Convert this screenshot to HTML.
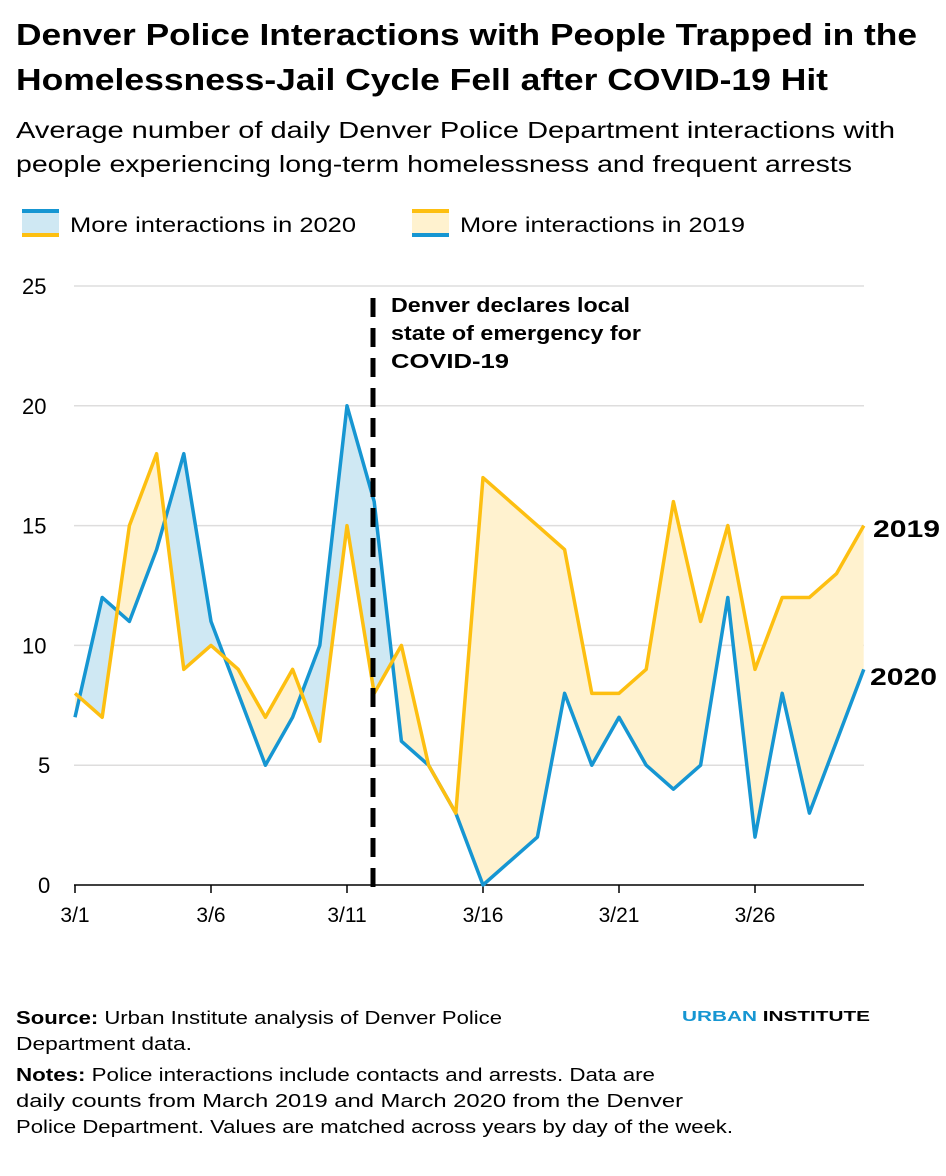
<!DOCTYPE html>
<html><head><meta charset="utf-8">
<style>
body{margin:0;background:#fff;width:946px;height:1171px;overflow:hidden;font-family:"Liberation Sans",sans-serif;color:#000}
</style></head><body>
<svg id="s" width="946" height="1171" xmlns="http://www.w3.org/2000/svg" font-family="Liberation Sans, sans-serif">
<text x="16" y="45" font-size="31" font-weight="bold" textLength="901" lengthAdjust="spacingAndGlyphs">Denver Police Interactions with People Trapped in the</text>
<text x="16" y="90" font-size="31" font-weight="bold" textLength="812" lengthAdjust="spacingAndGlyphs">Homelessness-Jail Cycle Fell after COVID-19 Hit</text>
<text x="16" y="138" font-size="23" textLength="879" lengthAdjust="spacingAndGlyphs">Average number of daily Denver Police Department interactions with</text>
<text x="16" y="172" font-size="23" textLength="836" lengthAdjust="spacingAndGlyphs">people experiencing long-term homelessness and frequent arrests</text>
<rect x="22" y="210" width="37" height="26" fill="#cfe8f3"/>
<rect x="22" y="209" width="37" height="4" fill="#1696d2"/>
<rect x="22" y="233" width="37" height="4" fill="#fdbf11"/>
<text x="70" y="232" font-size="21" textLength="286" lengthAdjust="spacingAndGlyphs">More interactions in 2020</text>
<rect x="412" y="210" width="37" height="26" fill="#fff2cf"/>
<rect x="412" y="209" width="37" height="4" fill="#fdbf11"/>
<rect x="412" y="233" width="37" height="4" fill="#1696d2"/>
<text x="460" y="232" font-size="21" textLength="285" lengthAdjust="spacingAndGlyphs">More interactions in 2019</text>
<g id="grid"></g>
<g id="chart"></g>
<line x1="373" y1="298" x2="373" y2="892" stroke="#000" stroke-width="5" stroke-dasharray="19,11"/>
<text x="391" y="312" font-size="20" font-weight="bold" textLength="239" lengthAdjust="spacingAndGlyphs">Denver declares local</text>
<text x="391" y="340" font-size="20" font-weight="bold" textLength="250" lengthAdjust="spacingAndGlyphs">state of emergency for</text>
<text x="391" y="368" font-size="20" font-weight="bold" textLength="118" lengthAdjust="spacingAndGlyphs">COVID-19</text>
<text x="873" y="537" font-size="24" font-weight="bold" textLength="67" lengthAdjust="spacingAndGlyphs">2019</text>
<text x="870" y="685" font-size="24" font-weight="bold" textLength="67" lengthAdjust="spacingAndGlyphs">2020</text>
<text x="16" y="1024" font-size="18" textLength="486" lengthAdjust="spacingAndGlyphs"><tspan font-weight="bold">Source:</tspan> Urban Institute analysis of Denver Police</text>
<text x="16" y="1050" font-size="18" textLength="176" lengthAdjust="spacingAndGlyphs">Department data.</text>
<text x="16" y="1081" font-size="18" textLength="639" lengthAdjust="spacingAndGlyphs"><tspan font-weight="bold">Notes:</tspan>  Police interactions include contacts and arrests. Data are</text>
<text x="16" y="1107" font-size="18" textLength="667" lengthAdjust="spacingAndGlyphs">daily counts from March 2019 and March 2020 from the Denver</text>
<text x="16" y="1133" font-size="18" textLength="717" lengthAdjust="spacingAndGlyphs">Police Department. Values are matched across years by day of the week.</text>
<text x="682" y="1021" font-size="15" font-weight="bold" textLength="188" lengthAdjust="spacingAndGlyphs"><tspan fill="#1696d2">URBAN</tspan> INSTITUTE</text>
</svg>
<script>
var b=[7,12,11,14,18,11,8,5,7,10,20,16,6,5,3,0,1,2,8,5,7,5,4,5,12,2,8,3,6,9];
var y=[8,7,15,18,9,10,9,7,9,6,15,8,10,5,3,17,16,15,14,8,8,9,16,11,15,9,12,12,13,15];
function X(i){return 75+i*27.2}function Y(v){return 885-v*23.96}
var g='';
for(var v=0;v<=25;v+=5){var yy=Y(v);if(v>0)g+='<line x1="74" x2="864" y1="'+yy+'" y2="'+yy+'" stroke="#dedddd" stroke-width="1.5"/>';
g+='<text x="'+(v<10?38:22)+'" y="'+(yy+8)+'" font-size="22">'+v+'</text>';}
document.getElementById('grid').innerHTML=g;
function pts(a){return a.map(function(v,i){return X(i)+','+Y(v)}).join(' ')}
var pb=pts(b),py=pts(y),L=X(0),R=X(29);
var c='<defs><clipPath id="ay"><polygon points="'+L+',0 '+py+' '+R+',0"/></clipPath><clipPath id="ab"><polygon points="'+L+',0 '+pb+' '+R+',0"/></clipPath></defs>';
c+='<polygon clip-path="url(#ay)" fill="#cfe8f3" points="'+L+',885 '+pb+' '+R+',885"/>';
c+='<polygon clip-path="url(#ab)" fill="#fff2cf" points="'+L+',885 '+py+' '+R+',885"/>';
c+='<line x1="74" x2="864" y1="885" y2="885" stroke="#000" stroke-width="1.5"/>';
[0,5,10,15,20,25].forEach(function(i){var lab=['3/1','3/6','3/11','3/16','3/21','3/26'][i/5];
c+='<line x1="'+X(i)+'" x2="'+X(i)+'" y1="885" y2="893" stroke="#000" stroke-width="1.5"/>';
c+='<text x="'+X(i)+'" y="922" font-size="21" text-anchor="middle">'+lab+'</text>';});
c+='<polyline points="'+pb+'" fill="none" stroke="#1696d2" stroke-width="3.5" stroke-linejoin="round"/>';
c+='<polyline points="'+py+'" fill="none" stroke="#fdbf11" stroke-width="3.5" stroke-linejoin="round"/>';
document.getElementById('chart').innerHTML=c;
</script>
</body></html>
